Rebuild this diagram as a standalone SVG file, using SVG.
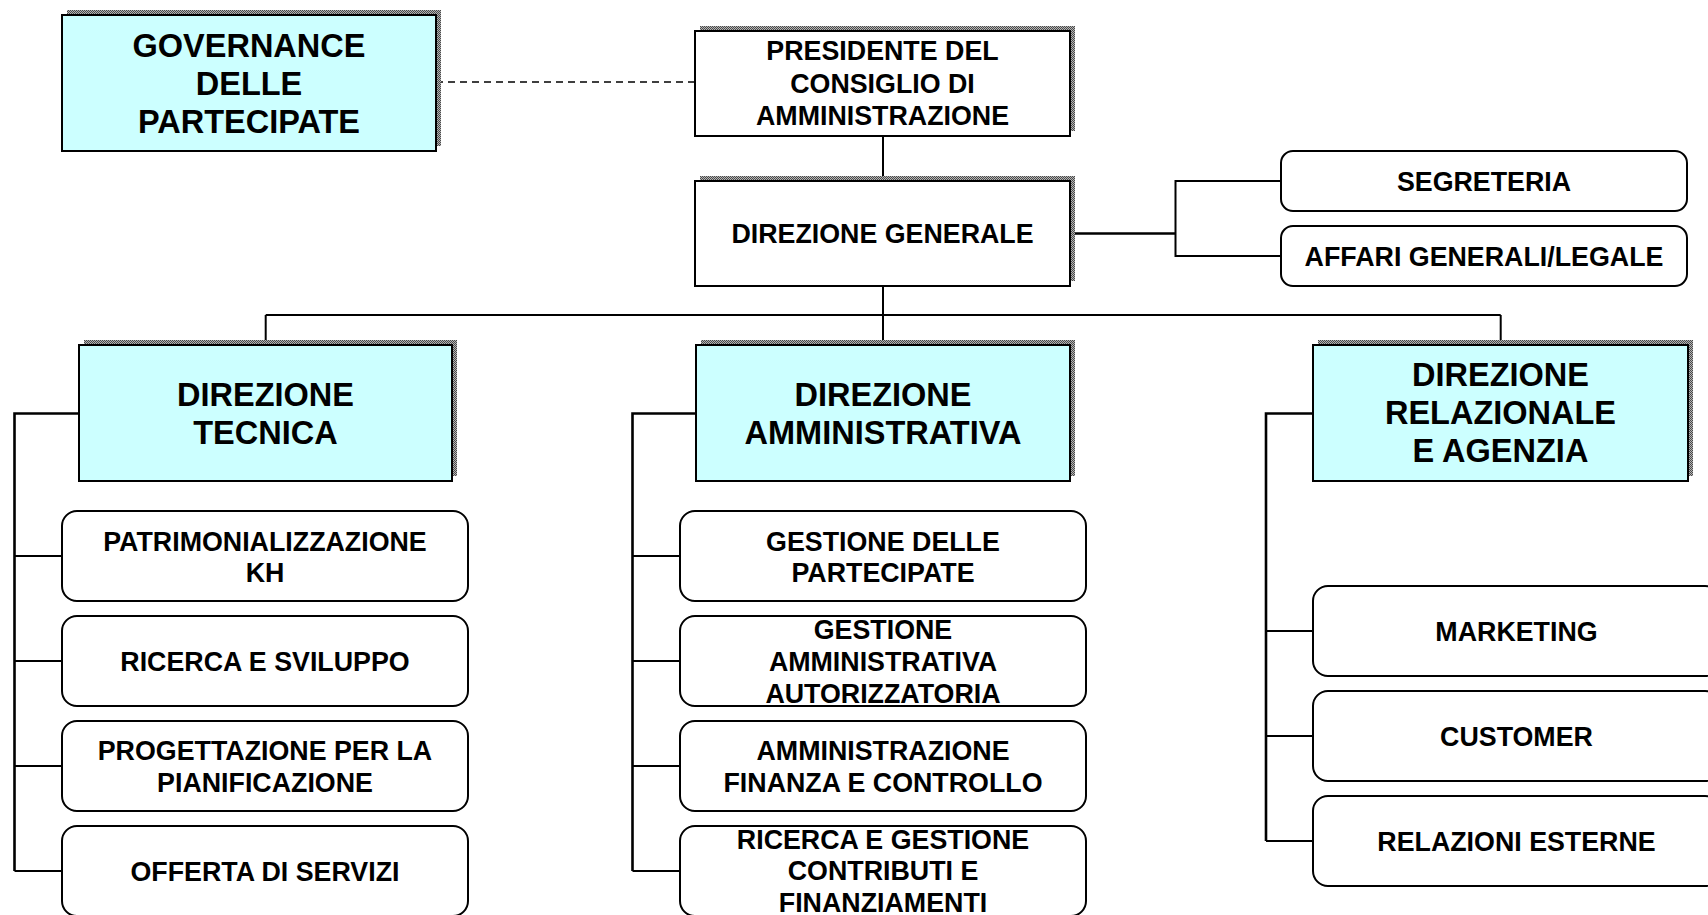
<svg xmlns="http://www.w3.org/2000/svg" width="1708" height="915" viewBox="0 0 1708 915">
<defs>
<pattern id="hatch" width="2" height="2" patternUnits="userSpaceOnUse">
<rect width="2" height="2" fill="#b4b4b4"/>
<rect width="1" height="1" fill="#4a4a4a"/>
<rect x="1" y="1" width="1" height="1" fill="#4a4a4a"/>
</pattern>
</defs>
<style>
.box{fill:#ccffff;stroke:#000;stroke-width:2}
.wbox{fill:#fff;stroke:#000;stroke-width:2}
.sh{fill:url(#hatch)}
text{font-family:"Liberation Sans",Arial,sans-serif;font-weight:bold;text-anchor:middle;fill:#000}
.t32{font-size:32.5px}
.t26{font-size:26.8px}
.conn{stroke:#000;fill:none;stroke-width:2}
.trunk{stroke:#000;fill:none;stroke-width:2.6}
.dash{stroke:#000;fill:none;stroke-width:1.6;stroke-dasharray:7 5}
</style>
<rect width="1708" height="915" fill="#fff"/>
<g id="connectors">
<line class="dash" x1="436" y1="82" x2="695" y2="82"/>
<line class="conn" x1="883" y1="136" x2="883" y2="181"/>
<line class="conn" x1="883" y1="286" x2="883" y2="345"/>
<line class="conn" x1="265.7" y1="315" x2="1500.7" y2="315"/>
<line class="conn" x1="265.7" y1="315" x2="265.7" y2="345"/>
<line class="conn" x1="1500.7" y1="315" x2="1500.7" y2="345"/>
<line class="trunk" x1="1070" y1="233.5" x2="1175.5" y2="233.5"/>
<polyline class="conn" points="1281,181 1175.5,181 1175.5,256 1281,256"/>
<polyline class="trunk" points="79,413.5 14.5,413.5 14.5,871"/>
<line class="conn" x1="14.5" y1="556" x2="62" y2="556"/>
<line class="conn" x1="14.5" y1="661" x2="62" y2="661"/>
<line class="conn" x1="14.5" y1="766" x2="62" y2="766"/>
<line class="conn" x1="14.5" y1="871" x2="62" y2="871"/>
<polyline class="trunk" points="696,413.5 632.5,413.5 632.5,871"/>
<line class="conn" x1="632.5" y1="556" x2="680" y2="556"/>
<line class="conn" x1="632.5" y1="661" x2="680" y2="661"/>
<line class="conn" x1="632.5" y1="766" x2="680" y2="766"/>
<line class="conn" x1="632.5" y1="871" x2="680" y2="871"/>
<polyline class="trunk" points="1313,413.5 1266,413.5 1266,841"/>
<line class="conn" x1="1266" y1="631" x2="1313" y2="631"/>
<line class="conn" x1="1266" y1="736" x2="1313" y2="736"/>
<line class="conn" x1="1266" y1="841" x2="1313" y2="841"/>
</g>
<g id="governance">
<rect class="sh" x="67" y="10" width="374" height="136"/>
<rect class="box" x="62" y="15" width="374" height="136"/>
<text class="t32" x="249" y="57">GOVERNANCE</text>
<text class="t32" x="249" y="95">DELLE</text>
<text class="t32" x="249" y="133">PARTECIPATE</text>
</g>
<g id="presidente">
<rect class="sh" x="700" y="26" width="375" height="105"/>
<rect class="wbox" x="695" y="31" width="375" height="105"/>
<text class="t26" x="882.5" y="60">PRESIDENTE DEL</text>
<text class="t26" x="882.5" y="92.5">CONSIGLIO DI</text>
<text class="t26" x="882.5" y="125">AMMINISTRAZIONE</text>
</g>
<g id="direzione-generale">
<rect class="sh" x="700" y="176" width="375" height="105"/>
<rect class="wbox" x="695" y="181" width="375" height="105"/>
<text class="t26" x="882.5" y="242.5">DIREZIONE GENERALE</text>
</g>
<g id="segreteria">
<rect class="wbox" x="1281" y="151" width="406" height="60" rx="12"/>
<text class="t26" x="1484" y="190.5">SEGRETERIA</text>
</g>
<g id="affari-generali">
<rect class="wbox" x="1281" y="226" width="406" height="60" rx="12"/>
<text class="t26" x="1484" y="265.5">AFFARI GENERALI/LEGALE</text>
</g>
<g id="direzione-tecnica">
<rect class="sh" x="84" y="340" width="373" height="136"/>
<rect class="box" x="79" y="345" width="373" height="136"/>
<text class="t32" x="265.5" y="406">DIREZIONE</text>
<text class="t32" x="265.5" y="444">TECNICA</text>
</g>
<g id="direzione-amministrativa">
<rect class="sh" x="701" y="340" width="374" height="136"/>
<rect class="box" x="696" y="345" width="374" height="136"/>
<text class="t32" x="883" y="406">DIREZIONE</text>
<text class="t32" x="883" y="444">AMMINISTRATIVA</text>
</g>
<g id="direzione-relazionale">
<rect class="sh" x="1318" y="340" width="375" height="136"/>
<rect class="box" x="1313" y="345" width="375" height="136"/>
<text class="t32" x="1500.5" y="386">DIREZIONE</text>
<text class="t32" x="1500.5" y="424">RELAZIONALE</text>
<text class="t32" x="1500.5" y="462">E AGENZIA</text>
</g>
<g id="patrimonializzazione">
<rect class="wbox" x="62" y="511" width="406" height="90" rx="15"/>
<text class="t26" x="265" y="550.5">PATRIMONIALIZZAZIONE</text>
<text class="t26" x="265" y="582">KH</text>
</g>
<g id="ricerca-sviluppo">
<rect class="wbox" x="62" y="616" width="406" height="90" rx="15"/>
<text class="t26" x="265" y="671">RICERCA E SVILUPPO</text>
</g>
<g id="progettazione">
<rect class="wbox" x="62" y="721" width="406" height="90" rx="15"/>
<text class="t26" x="265" y="760">PROGETTAZIONE PER LA</text>
<text class="t26" x="265" y="791.5">PIANIFICAZIONE</text>
</g>
<g id="offerta-servizi">
<rect class="wbox" x="62" y="826" width="406" height="90" rx="15"/>
<text class="t26" x="265" y="880.5">OFFERTA DI SERVIZI</text>
</g>
<g id="gestione-partecipate">
<rect class="wbox" x="680" y="511" width="406" height="90" rx="15"/>
<text class="t26" x="883" y="550.5">GESTIONE DELLE</text>
<text class="t26" x="883" y="582">PARTECIPATE</text>
</g>
<g id="gestione-amministrativa">
<rect class="wbox" x="680" y="616" width="406" height="90" rx="15"/>
<text class="t26" x="883" y="638.5">GESTIONE</text>
<text class="t26" x="883" y="670.5">AMMINISTRATIVA</text>
<text class="t26" x="883" y="702.5">AUTORIZZATORIA</text>
</g>
<g id="amministrazione-finanza">
<rect class="wbox" x="680" y="721" width="406" height="90" rx="15"/>
<text class="t26" x="883" y="760">AMMINISTRAZIONE</text>
<text class="t26" x="883" y="791.5">FINANZA E CONTROLLO</text>
</g>
<g id="ricerca-contributi">
<rect class="wbox" x="680" y="826" width="406" height="90" rx="15"/>
<text class="t26" x="883" y="848.5">RICERCA E GESTIONE</text>
<text class="t26" x="883" y="880">CONTRIBUTI E</text>
<text class="t26" x="883" y="911.5">FINANZIAMENTI</text>
</g>
<g id="marketing">
<rect class="wbox" x="1313" y="586" width="407" height="90" rx="15"/>
<text class="t26" x="1516.5" y="640.5">MARKETING</text>
</g>
<g id="customer">
<rect class="wbox" x="1313" y="691" width="407" height="90" rx="15"/>
<text class="t26" x="1516.5" y="745.5">CUSTOMER</text>
</g>
<g id="relazioni-esterne">
<rect class="wbox" x="1313" y="796" width="407" height="90" rx="15"/>
<text class="t26" x="1516.5" y="850.5">RELAZIONI ESTERNE</text>
</g>
</svg>
